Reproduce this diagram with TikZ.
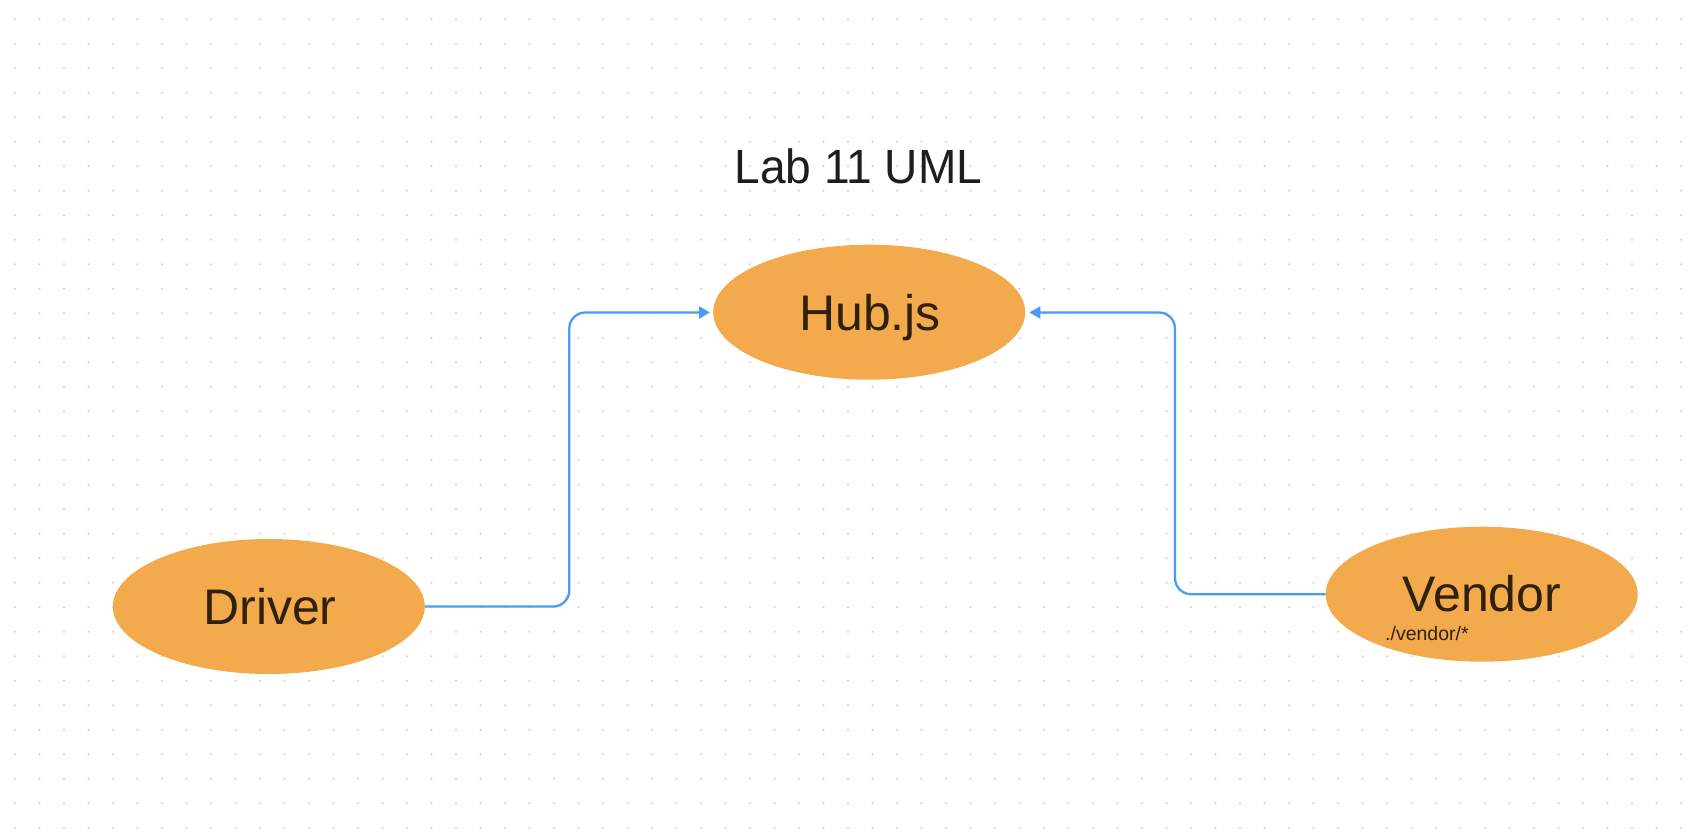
\documentclass[tikz,border=0pt]{standalone}
\usepackage{fontspec}
\setmainfont{Liberation Sans}
\usetikzlibrary{shapes.geometric,arrows.meta}
\definecolor{nodefill}{HTML}{F2AA4C}
\definecolor{nodetext}{HTML}{2F210E}
\definecolor{linkblue}{HTML}{4A9BF5}
\definecolor{titletext}{HTML}{1E1E1E}
\definecolor{dotgrey}{HTML}{CFCFCF}
\tikzset{
  blob/.style={ellipse, fill=nodefill, draw=none, minimum width=312pt, minimum height=135pt, inner sep=0pt},
  bigtext/.style={anchor=base, inner sep=0pt, text=nodetext, font=\fontsize{50}{60}\selectfont},
  smalltext/.style={anchor=base west, inner sep=0pt, text=nodetext, font=\fontsize{19.5}{23}\selectfont},
  titlestyle/.style={anchor=base, inner sep=0pt, text=titletext, font=\fontsize{48}{58}\selectfont, xscale=0.96},
  conn/.style={draw=linkblue, line width=2.3pt, rounded corners=16pt, -{Triangle[length=11pt,width=12pt]}},
}
\begin{document}
\begin{tikzpicture}[x=1pt,y=-1pt]
\useasboundingbox (0,0) rectangle (1698,832);
\fill[white] (0,0) rectangle (1698,832);
% dot grid
\foreach \i in {0,...,68}{
  \foreach \j in {0,...,33}{
    \fill[dotgrey] ({15+24.5*\i},{19.3+24.5*\j}) circle (1.15pt);
  }
}
% title
\node[titlestyle] (title) at (858.4,183.3) {Lab 11 UML};
% ellipses
\node[blob] (hub) at (869.2,312.2) {};
\node[blob] (driver) at (268.8,606.5) {};
\node[blob] (vendor) at (1481.7,594.2) {};
% texts
\node[bigtext] (hubtxt) at (870,330) {Hub.js};
\node[bigtext] (drivertxt) at (270,624) {Driver};
\node[bigtext] (vendortxt) at (1482,611.7) {Vendor};
\node[smalltext] (vendorsub) at (1385,640) {./vendor/*};
% connectors
\coordinate (dbend) at (569.3,312.5);
\coordinate (vbend) at (1175,312.5);
\draw[conn, shorten >=3pt] (driver.east) -| (dbend) -- (dbend -| hub.west);
\draw[conn, shorten >=4pt] (vendor.west) -| (vbend) -- (vbend -| hub.east);
\end{tikzpicture}
\end{document}
